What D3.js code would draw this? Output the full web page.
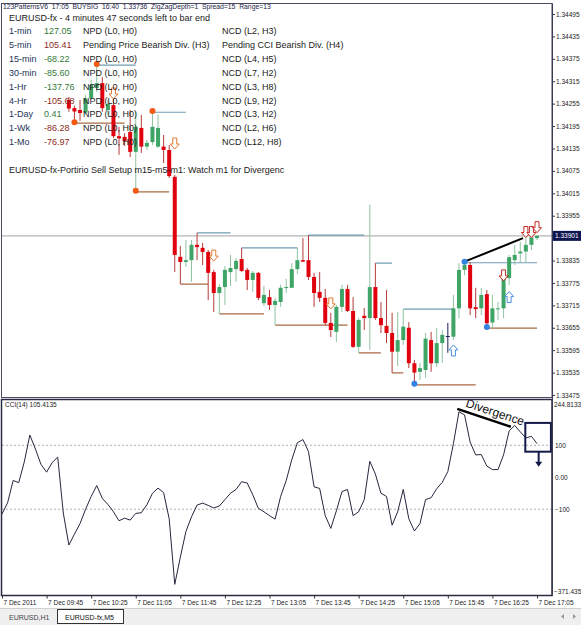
<!DOCTYPE html>
<html>
<head>
<meta charset="utf-8">
<script src="https://cdn.jsdelivr.net/npm/d3@7"></script>
<style>
body { margin: 0; background: #fff; }
svg { display: block; font-family: "Liberation Sans", Arial, sans-serif; }
</style>
</head>
<body>
<div id="chart"></div>
<script>
// ---- values (M5 bars, 7 Dec 2011 09:05 .. 17:05) ----
let timeLabels = ['7 Dec 2011', '7 Dec 09:45', '7 Dec 10:25', '7 Dec 11:05', '7 Dec 11:45', '7 Dec 12:25',
                  '7 Dec 13:05', '7 Dec 13:45', '7 Dec 14:25', '7 Dec 15:05', '7 Dec 15:45', '7 Dec 16:25', '7 Dec 17:05'];
let barsPerLabel = 8;
let barCount = 97;

// first bars are above the visible price range, candles start at bar 12
let firstBar = 12;
let opens  = [1.34265,1.34243,1.34238,1.34231,1.34270,1.34297,1.34310,1.34238,1.34251,1.34168,1.34166,1.34179,1.34126,1.34190,1.34140,1.34152,1.34140,1.34140,1.34131,1.34059,
              1.33845,1.33831,1.33836,1.33877,1.33869,1.33858,1.33804,1.33748,1.33764,1.33804,1.33812,1.33839,1.33810,1.33783,1.33802,1.33721,1.33737,1.33716,1.33724,1.33762,
              1.33762,1.33812,1.33836,1.33836,1.33791,1.33751,1.33735,1.33668,1.33644,1.33711,1.33759,1.33700,1.33604,1.33687,1.33681,1.33764,1.33681,1.33660,1.33641,1.33591,
              1.33622,1.33655,1.33560,1.33537,1.33542,1.33622,1.33560,1.33614,1.33633,1.33631,1.33707,1.33810,1.33823,1.33710,1.33707,1.33745,1.33669,1.33705,1.33707,1.33788,
              1.33836,1.33854,1.33859,1.33877,1.33895];
let highs  = [1.34273,1.34249,1.34265,1.34278,1.34318,1.34361,1.34326,1.34265,1.34273,1.34193,1.34176,1.34238,1.34233,1.34225,1.34158,1.34235,1.34225,1.34171,1.34144,1.34064,
              1.33874,1.33890,1.33890,1.33909,1.33882,1.33863,1.33810,1.33772,1.33820,1.33850,1.33842,1.33869,1.33815,1.33807,1.33804,1.33767,1.33756,1.33735,1.33770,1.33786,
              1.33828,1.33869,1.33895,1.33903,1.33802,1.33804,1.33759,1.33695,1.33716,1.33770,1.33770,1.33737,1.33681,1.33708,1.33984,1.33828,1.33724,1.33756,1.33695,1.33697,
              1.33705,1.33670,1.33569,1.33561,1.33641,1.33644,1.33654,1.33649,1.33668,1.33743,1.33828,1.33832,1.33831,1.33762,1.33762,1.33756,1.33743,1.33724,1.33796,1.33850,
              1.33877,1.33885,1.33898,1.33903,1.33902];
let lows   = [1.34233,1.34205,1.34209,1.34227,1.34265,1.34286,1.34233,1.34225,1.34163,1.34118,1.34142,1.34112,1.34022,1.34123,1.34131,1.34144,1.34136,1.34096,1.34056,1.33804,
              1.33772,1.33818,1.33778,1.33836,1.33823,1.33729,1.33697,1.33692,1.33716,1.33767,1.33778,1.33804,1.33756,1.33751,1.33729,1.33713,1.33703,1.33662,1.33711,1.33748,
              1.33762,1.33799,1.33831,1.33783,1.33711,1.33724,1.33662,1.33630,1.33617,1.33697,1.33697,1.33601,1.33588,1.33649,1.33596,1.33676,1.33641,1.33614,1.33534,1.33553,
              1.33609,1.33547,1.33505,1.33515,1.33521,1.33537,1.33550,1.33561,1.33588,1.33622,1.33681,1.33796,1.33689,1.33681,1.33689,1.33657,1.33654,1.33676,1.33681,1.33770,
              1.33823,1.33831,1.33831,1.33863,1.33890];
let closes = [1.34242,1.34234,1.34230,1.34269,1.34305,1.34310,1.34243,1.34254,1.34168,1.34162,1.34155,1.34126,1.34193,1.34140,1.34150,1.34193,1.34190,1.34131,1.34061,1.33850,
              1.33831,1.33836,1.33877,1.33871,1.33858,1.33802,1.33748,1.33764,1.33810,1.33815,1.33834,1.33807,1.33783,1.33802,1.33735,1.33743,1.33716,1.33727,1.33762,1.33764,
              1.33812,1.33836,1.33832,1.33791,1.33748,1.33735,1.33668,1.33649,1.33711,1.33759,1.33700,1.33604,1.33676,1.33681,1.33764,1.33681,1.33662,1.33641,1.33591,1.33622,
              1.33658,1.33560,1.33535,1.33547,1.33626,1.33560,1.33614,1.33636,1.33633,1.33707,1.33810,1.33823,1.33707,1.33705,1.33743,1.33667,1.33707,1.33707,1.33788,1.33844,
              1.33850,1.33859,1.33877,1.33897,1.33901];

// CCI(14), one value per bar
let cci = [-115,-80,-10,-17,48,132,88,40,16,46,63,-112,-212,-178,-145,-100,-60,-26,-66,-85,
           -108,-136,-128,-134,-113,-111,-86,-50,-34,-48,-130,-335,-250,-170,-124,-87,-81,-88,-96,-90,
           -70,-50,-38,-14,-18,-55,-97,-108,-120,-131,-60,-10,55,108,118,80,-30,-35,-120,-160,
           -105,-45,-38,-120,-108,-70,50,10,-50,-60,-150,-108,-38,-130,-168,-145,-70,-64,-36,-16,
           18,105,205,195,110,70,71,35,24,24,70,145,162,142,123,128,105.41];

let priceTicks = [1.34495,1.34435,1.34375,1.34315,1.34255,1.34195,1.34135,1.34075,1.34015,1.33955,
                  1.33835,1.33775,1.33715,1.33655,1.33595,1.33535,1.33475];
let priceRange = [1.33475, 1.34495];
let lastPrice = 1.33901;
let cciTicks = [100, 0, -100];
let cciRange = [-371.435, 244.8133];
let cciLevels = [100, -100];
let cciNow = '105.4135';

// zigzag levels: [from bar, to bar, price, side]
let levelLines = [[17,24,1.34358,'hi'],[13,22,1.34203,'lo'],[27,33,1.34232,'hi'],[24,30,1.34019,'lo'],
                  [32,37,1.33772,'lo'],[35,41,1.33909,'hi'],[39,47,1.33692,'lo'],[43,53,1.33869,'hi'],
                  [49,62,1.33662,'lo'],[55,65,1.33903,'hi'],[64,68,1.33588,'lo'],[67,70,1.33828,'hi'],
                  [70,72,1.33534,'lo'],[72,81,1.33705,'hi'],[74,85,1.33502,'lo'],[83,96,1.33829,'hi'],
                  [87,96,1.33654,'lo']];
let orangeDots = [[13,1.34205],[17,1.34361],[24,1.34022],[27,1.34235]];
let blueDots = [[74,1.33505],[83,1.33832],[87,1.33657]];
let orangeDown = [[20,1.34297],[31,1.34163],[38,1.33863],[59,1.33735]];
let redDown = [[90,1.33810],[94,1.33926],[95,1.33926],[96,1.33939]];
let blueUp = [[81,1.33609],[91,1.33752]];
let trendLine = [[83,1.33832],[93.5,1.33895]];
let divergenceLine = [[81.7,214],[91.3,158]];
let divBox = [[93.9,170],[98.5,80]];
let divArrow = [[96.3,80],[96.3,33]];

// multi time frame table
let tfLabels = ['1-min','5-min','15-min','30-min','1-Hr','4-Hr','1-Day','1-Wk','1-Mo'];
let tfCci = [127.05,105.41,-68.22,-85.60,-137.76,-105.68,0.41,-86.28,-76.97];
let tfRising = [1,0,1,1,1,0,1,0,0];
let tfPriceDiv = ['NPD (L0, H0)','Pending Price Bearish Div. (H3)','NPD (L0, H0)','NPD (L0, H0)','NPD (L0, H0)',
                  'NPD (L0, H0)','NPD (L0, H0)','NPD (L0, H0)','NPD (L0, H0)'];
let tfCciDiv = ['NCD (L2, H3)','Pending CCI Bearish Div. (H4)','NCD (L4, H5)','NCD (L7, H2)','NCD (L3, H8)',
                'NCD (L9, H2)','NCD (L3, H2)','NCD (L2, H6)','NCD (L12, H8)'];

// ---- layout ----
let svg_width = 581;
let svg_height = 625;
let plot_left = 2, plot_right = 552;
let main_top = 3.5, main_bottom = 397.5;
let cci_top = 399.5, cci_bottom = 595.5;

let svg = d3.select('#chart').append('svg')
    .attr('width', svg_width)
    .attr('height', svg_height);

let x = d3.scaleLinear().domain([0, barCount - 1]).range([2, 537]);
let y = d3.scaleLinear().domain(priceRange).range([395, 14]);
let yc = d3.scaleLinear().domain(cciRange).range([596, 399]);

let defs = svg.append('defs');
defs.append('clipPath').attr('id', 'clipMain').append('rect')
    .attr('x', plot_left).attr('y', main_top).attr('width', plot_right - plot_left).attr('height', main_bottom - main_top);
defs.append('clipPath').attr('id', 'clipCci').append('rect')
    .attr('x', plot_left).attr('y', cci_top).attr('width', plot_right - plot_left).attr('height', cci_bottom - cci_top);

// ---- main price panel ----
let main = svg.append('g').attr('clip-path', 'url(#clipMain)');

// current price line
main.append('line')
    .attr('x1', plot_left).attr('x2', plot_right)
    .attr('y1', y(lastPrice)).attr('y2', y(lastPrice))
    .attr('stroke', '#b4b4b4').attr('stroke-width', 1.2);

// zigzag levels
main.selectAll('line.level')
    .data(levelLines)
    .enter()
    .append('line')
    .attr('x1', d => x(d[0])).attr('x2', d => x(d[1]))
    .attr('y1', d => y(d[2])).attr('y2', d => y(d[2]))
    .attr('stroke', d => d[3] == 'hi' ? '#6f9db2' : '#a86a44')
    .attr('stroke-width', 1.2);

let candles = opens.map((o, k) => ({i: firstBar + k, o: o, h: highs[k], l: lows[k], c: closes[k]}));

function candleColor(d, body) {
    if (d.c > d.o) return body ? '#3fa566' : '#8fc3a2';
    if (d.c < d.o) return body ? '#e0000e' : '#b83a3a';
    return '#1c1c5c';
}

main.selectAll('line.wick')
    .data(candles)
    .enter()
    .append('line')
    .attr('x1', d => x(d.i)).attr('x2', d => x(d.i))
    .attr('y1', d => y(d.h)).attr('y2', d => y(d.l))
    .attr('stroke', d => candleColor(d, false))
    .attr('stroke-width', 1);

main.selectAll('rect.body')
    .data(candles)
    .enter()
    .append('rect')
    .attr('x', d => x(d.i) - 2)
    .attr('width', 4)
    .attr('y', d => y(Math.max(d.o, d.c)))
    .attr('height', d => Math.max(1, Math.abs(y(d.o) - y(d.c))))
    .attr('fill', d => candleColor(d, true));

// trend line between the two highs
main.append('line')
    .attr('x1', x(trendLine[0][0])).attr('y1', y(trendLine[0][1]))
    .attr('x2', x(trendLine[1][0])).attr('y2', y(trendLine[1][1]))
    .attr('stroke', '#000').attr('stroke-width', 2);

main.selectAll('circle.odot')
    .data(orangeDots)
    .enter()
    .append('circle')
    .attr('cx', d => x(d[0])).attr('cy', d => y(d[1])).attr('r', 3)
    .attr('fill', '#f05a14');

main.selectAll('circle.bdot')
    .data(blueDots)
    .enter()
    .append('circle')
    .attr('cx', d => x(d[0])).attr('cy', d => y(d[1])).attr('r', 3)
    .attr('fill', '#3384e0');

// hollow arrows
function downArrow(cx, top) {
    return 'M' + (cx - 2) + ',' + top + 'h4v6h2.5l-4.5,5l-4.5,-5h2.5z';
}
function upArrow(cx, top) {
    return 'M' + cx + ',' + top + 'l4.5,5h-2.5v6h-4v-6h-2.5z';
}

main.selectAll('path.odown')
    .data(orangeDown)
    .enter()
    .append('path')
    .attr('d', d => downArrow(x(d[0]), y(d[1])))
    .attr('fill', '#fff').attr('stroke', '#e6782e').attr('stroke-width', 1);

main.selectAll('path.rdown')
    .data(redDown)
    .enter()
    .append('path')
    .attr('d', d => downArrow(x(d[0]), y(d[1])))
    .attr('fill', '#fff').attr('stroke', '#c42a22').attr('stroke-width', 1);

main.selectAll('path.bup')
    .data(blueUp)
    .enter()
    .append('path')
    .attr('d', d => upArrow(x(d[0]), y(d[1])))
    .attr('fill', '#fff').attr('stroke', '#4a8ee0').attr('stroke-width', 1);

// ---- text block on the price panel ----
let txt = svg.append('g').attr('font-size', 9);

txt.append('text')
    .attr('x', 3).attr('y', 9)
    .attr('font-size', 6.8)
    .attr('fill', '#1c2448')
    .text('123PatternsV6\u00a0\u00a017:05\u00a0\u00a0BUYSIG\u00a0\u00a016:40\u00a0\u00a01.33736\u00a0\u00a0ZigZagDepth=1\u00a0\u00a0Spread=15\u00a0\u00a0Range=13');

txt.append('text')
    .attr('x', 9).attr('y', 20.6)
    .attr('fill', '#1a1a1a')
    .text('EURUSD-fx - 4 minutes 47 seconds left to bar end');

let row_y = i => 34 + i * 13.9;

txt.selectAll('text.tf')
    .data(tfLabels)
    .enter()
    .append('text')
    .attr('x', 9).attr('y', (d, i) => row_y(i))
    .attr('fill', '#253458')
    .text(d => d);

txt.selectAll('text.val')
    .data(tfCci)
    .enter()
    .append('text')
    .attr('x', 44).attr('y', (d, i) => row_y(i))
    .attr('fill', (d, i) => tfRising[i] ? '#347a38' : '#8e2a22')
    .text(d => d.toFixed(2));

txt.selectAll('text.pdiv')
    .data(tfPriceDiv)
    .enter()
    .append('text')
    .attr('x', 83).attr('y', (d, i) => row_y(i))
    .attr('fill', '#222')
    .text(d => d);

txt.selectAll('text.cdiv')
    .data(tfCciDiv)
    .enter()
    .append('text')
    .attr('x', 222).attr('y', (d, i) => row_y(i))
    .attr('fill', '#222')
    .text(d => d);

txt.append('text')
    .attr('x', 9).attr('y', 173.3)
    .attr('fill', '#1a1a1a')
    .text('EURUSD-fx-Portirio Sell Setup m15-m5-m1: Watch m1 for Divergenc');

// ---- CCI panel ----
let sub = svg.append('g').attr('clip-path', 'url(#clipCci)');

sub.selectAll('line.lvl')
    .data(cciLevels)
    .enter()
    .append('line')
    .attr('x1', plot_left).attr('x2', plot_right)
    .attr('y1', d => yc(d)).attr('y2', d => yc(d))
    .attr('stroke', '#b0b0b0').attr('stroke-dasharray', '2,2');

let cciLine = d3.line()
    .x((d, i) => x(i))
    .y(d => yc(d));

sub.append('path')
    .datum(cci)
    .attr('d', cciLine)
    .attr('fill', 'none')
    .attr('stroke', '#26263e')
    .attr('stroke-width', 1);

svg.append('text')
    .attr('x', 5).attr('y', 407)
    .attr('font-size', 6.5)
    .attr('fill', '#222')
    .text('CCI(14) ' + cciNow);

// divergence mark
let dx1 = x(divergenceLine[0][0]), dy1 = yc(divergenceLine[0][1]);
let dx2 = x(divergenceLine[1][0]), dy2 = yc(divergenceLine[1][1]);
let angle = Math.atan2(dy2 - dy1, dx2 - dx1) * 180 / Math.PI;

svg.append('line')
    .attr('x1', dx1).attr('y1', dy1).attr('x2', dx2).attr('y2', dy2)
    .attr('stroke', '#000').attr('stroke-width', 2.5);

svg.append('text')
    .attr('transform', 'translate(' + (dx1 + 7) + ',' + dy1 + ') rotate(' + angle + ')')
    .attr('y', -2.5)
    .attr('font-size', 12)
    .attr('fill', '#111')
    .text('Divergence');

svg.append('rect')
    .attr('x', x(divBox[0][0])).attr('y', yc(divBox[0][1]))
    .attr('width', x(divBox[1][0]) - x(divBox[0][0]))
    .attr('height', yc(divBox[1][1]) - yc(divBox[0][1]))
    .attr('fill', 'none').attr('stroke', '#141a48').attr('stroke-width', 2);

svg.append('line')
    .attr('x1', x(divArrow[0][0])).attr('y1', yc(divArrow[0][1]))
    .attr('x2', x(divArrow[1][0])).attr('y2', yc(divArrow[1][1]) - 4)
    .attr('stroke', '#141a48').attr('stroke-width', 2);

svg.append('path')
    .attr('d', 'M' + (x(divArrow[1][0]) - 3.5) + ',' + (yc(divArrow[1][1]) - 5) + 'h7l-3.5,5z')
    .attr('fill', '#141a48');

// ---- frames ----
svg.append('rect')
    .attr('x', 1.5).attr('y', main_top)
    .attr('width', plot_right - 1.5).attr('height', main_bottom - main_top)
    .attr('fill', 'none').attr('stroke', '#4a4a62').attr('stroke-width', 1);

svg.append('rect')
    .attr('x', 1.5).attr('y', cci_top)
    .attr('width', plot_right - 1.5).attr('height', cci_bottom - cci_top)
    .attr('fill', 'none').attr('stroke', '#2a2a44').attr('stroke-width', 1.5);

// ---- axes ----
let priceAxis = svg.append('g')
    .attr('transform', 'translate(' + plot_right + ',0)')
    .call(d3.axisRight(y).tickValues(priceTicks).tickSize(3).tickPadding(1).tickFormat(d3.format('.5f')));

let cciAxis = svg.append('g')
    .attr('transform', 'translate(' + plot_right + ',0)')
    .call(d3.axisRight(yc).tickValues(cciTicks).tickSize(0).tickPadding(3)
          .tickFormat(d => d == 0 ? '0.00' : d3.format('d')(d)));

[priceAxis, cciAxis].forEach(a => {
    a.select('.domain').remove();
    a.selectAll('text').attr('font-size', 6.5).attr('fill', '#222').attr('font-family', '"Liberation Sans", Arial, sans-serif');
    a.selectAll('line').attr('stroke', '#333');
});

svg.append('line')
    .attr('x1', plot_right + 0.5).attr('x2', plot_right + 0.5)
    .attr('y1', main_top).attr('y2', cci_bottom)
    .attr('stroke', '#3a3a52');

// cci panel min / max labels
svg.append('text').attr('x', plot_right + 2).attr('y', cci_top + 7)
    .attr('font-size', 6.5).attr('fill', '#222').text(d3.format('.4f')(cciRange[1]));
svg.append('text').attr('x', plot_right + 2).attr('y', cci_bottom - 2)
    .attr('font-size', 6.5).attr('fill', '#222').text(d3.format('.3f')(cciRange[0]));

// current price tag
svg.append('rect')
    .attr('x', plot_right + 1).attr('y', y(lastPrice) - 5)
    .attr('width', svg_width - plot_right - 1).attr('height', 10)
    .attr('fill', '#0e1650');
svg.append('text')
    .attr('x', plot_right + 3).attr('y', y(lastPrice) + 2.5)
    .attr('font-size', 6.5).attr('fill', '#fff')
    .text(d3.format('.5f')(lastPrice));

// time axis
let tickBars = timeLabels.map((d, i) => i * barsPerLabel);
let timeAxis = svg.append('g')
    .attr('transform', 'translate(0,' + cci_bottom + ')')
    .call(d3.axisBottom(x).tickValues(tickBars).tickSize(3).tickFormat((d, i) => timeLabels[i]));
timeAxis.select('.domain').remove();
timeAxis.selectAll('line').attr('stroke', '#333');
timeAxis.selectAll('text')
    .attr('font-size', 6.5).attr('fill', '#222')
    .attr('font-family', '"Liberation Sans", Arial, sans-serif')
    .attr('text-anchor', 'start').attr('dx', 1).attr('y', 5).attr('dy', '0.7em');

// ---- tab bar ----
svg.append('rect')
    .attr('x', 0).attr('y', 608).attr('width', svg_width).attr('height', 17)
    .attr('fill', '#efefef');
svg.append('line')
    .attr('x1', 0).attr('x2', svg_width).attr('y1', 608.5).attr('y2', 608.5)
    .attr('stroke', '#cfcfcf');
svg.append('text')
    .attr('x', 9).attr('y', 620)
    .attr('font-size', 7).attr('fill', '#444')
    .text('EURUSD,H1');
svg.append('rect')
    .attr('x', 57.5).attr('y', 609.5).attr('width', 66).attr('height', 14)
    .attr('fill', '#fff').attr('stroke', '#333');
svg.append('text')
    .attr('x', 65).attr('y', 620)
    .attr('font-size', 7).attr('fill', '#111')
    .text('EURUSD-fx,M5');
svg.append('path').attr('d', 'M564,614l-3,2.5l3,2.5z').attr('fill', '#999');
svg.append('path').attr('d', 'M573,614l3,2.5l-3,2.5z').attr('fill', '#999');
</script>
</body>
</html>
